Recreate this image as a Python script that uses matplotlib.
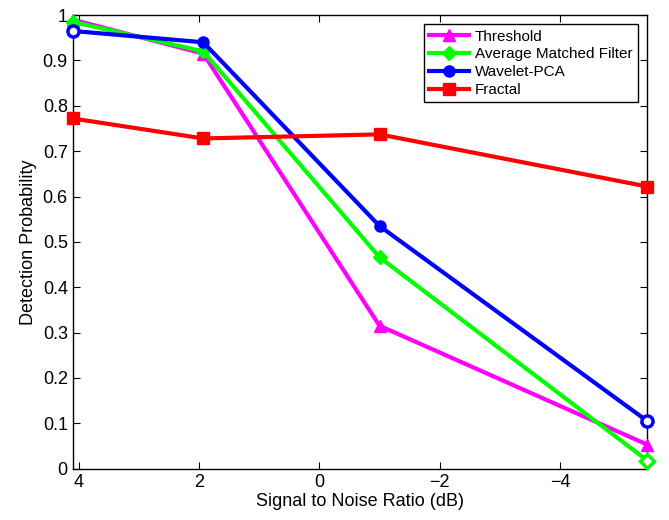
import numpy as np
import matplotlib.pyplot as plt

plt.rcParams['font.family'] = ['Liberation Sans', 'DejaVu Sans']

snr = [4.1, 1.93, -1.0, -5.45]
threshold = [0.99, 0.915, 0.315, 0.053]
amf = [0.985, 0.92, 0.466, 0.018]
wavelet = [0.965, 0.94, 0.535, 0.105]
fractal = [0.772, 0.728, 0.737, 0.622]

xticks = [4, 2, 0, -2, -4]
yticks = [i / 10 for i in range(0, 11)]
ylabels = ["0", "0.1", "0.2", "0.3", "0.4", "0.5", "0.6", "0.7", "0.8", "0.9", "1"]

fig = plt.figure(figsize=(6.69, 5.2), dpi=100)
ax = fig.add_axes([0.1087, 0.0987, 0.8588, 0.8723])

lw = 3.0
ax.plot(snr, threshold, color='#ff00ff', lw=lw, marker='^', ms=9, label="Threshold", clip_on=False, zorder=3)
ax.plot(snr, amf, color='#00ff00', lw=lw, marker='D', ms=7, label="Average Matched Filter", clip_on=False, zorder=3)
ax.plot(snr, wavelet, color='#0000ff', lw=lw, marker='o', ms=8, label="Wavelet-PCA", clip_on=False, zorder=3)
ax.plot(snr, fractal, color='#ff0000', lw=lw, marker='s', ms=8, label="Fractal", clip_on=False, zorder=3)

# hollow look at the edge points
ax.plot([snr[0], snr[-1]], [wavelet[0], wavelet[-1]], ls='none', marker='o', ms=8,
        mfc='white', mec='#0000ff', mew=2.5, clip_on=False, zorder=4)
ax.plot([snr[-1]], [amf[-1]], ls='none', marker='D', ms=7,
        mfc='white', mec='#00ff00', mew=2.5, clip_on=False, zorder=4)

ax.set_xlim(4.1, -5.45)
ax.set_ylim(0, 1)
ax.set_xticks(xticks)
ax.set_xticklabels(["4", "2", "0", "\u22122", "\u22124"])
ax.set_yticks(yticks)
ax.set_yticklabels(ylabels)
ax.tick_params(direction='in', top=True, right=True, length=5, labelsize=13, width=0.8)
for s in ax.spines.values():
    s.set_linewidth(1.0)

plt.xlabel("Signal to Noise Ratio (dB)", fontsize=13, labelpad=2)
plt.ylabel("Detection Probability", fontsize=13, labelpad=4)

leg = ax.legend(loc='upper right', fontsize=11, fancybox=False, framealpha=1,
                edgecolor='black', borderaxespad=0.6, handlelength=2.6,
                labelspacing=0.25, borderpad=0.35, handletextpad=0.4)
leg.get_frame().set_linewidth(1.0)

fig.savefig("out.png", dpi=100)
